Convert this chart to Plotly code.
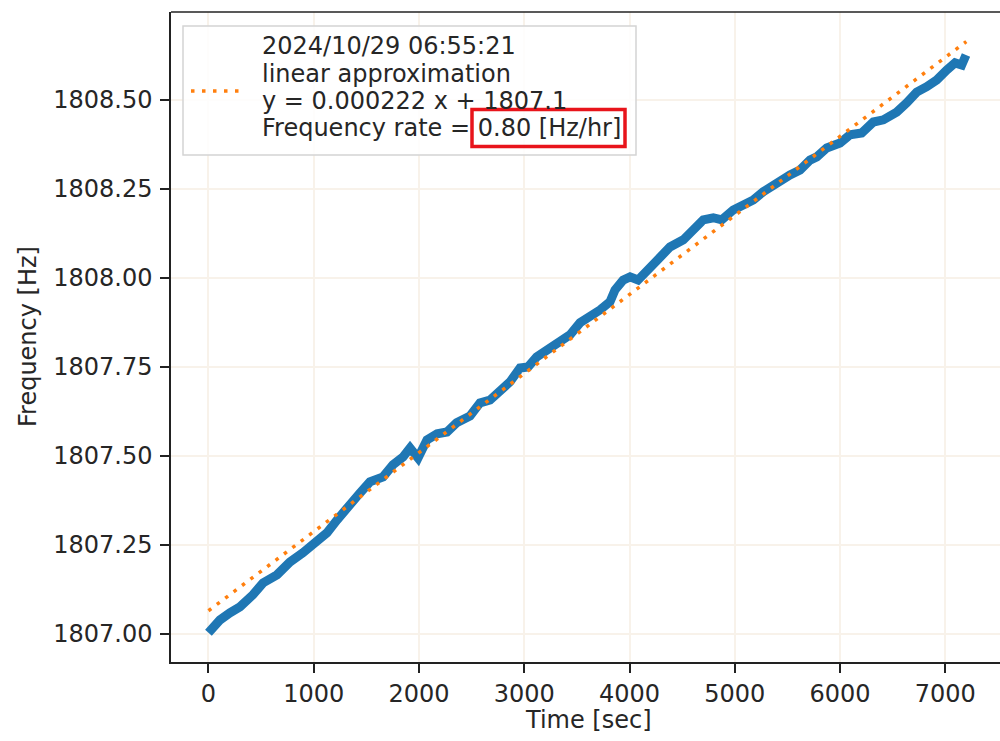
import plotly.graph_objects as go

# ---- data ----
time_sec = [0, 109, 204, 299, 423, 518, 651, 774, 898, 1059, 1126, 1221, 1344, 1440, 1534,
            1658, 1753, 1848, 1915, 1991, 2076, 2172, 2266, 2358, 2485, 2580, 2675, 2770,
            2865, 2960, 3036, 3118, 3245, 3340, 3435, 3530, 3625, 3720, 3815, 3862, 3939,
            4005, 4081, 4163, 4258, 4385, 4511, 4606, 4701, 4796, 4876, 4986, 5081, 5176,
            5271, 5398, 5525, 5620, 5715, 5779, 5874, 6000, 6095, 6206, 6317, 6412, 6539,
            6634, 6729, 6824, 6919, 7014, 7093, 7156, 7197]
freq_hz = [1807.003, 1807.039, 1807.059, 1807.076, 1807.110, 1807.143, 1807.166, 1807.202,
           1807.228, 1807.264, 1807.284, 1807.320, 1807.368, 1807.396, 1807.427, 1807.441,
           1807.475, 1807.497, 1807.522, 1807.494, 1807.545, 1807.562, 1807.567, 1807.593,
           1807.612, 1807.649, 1807.657, 1807.680, 1807.708, 1807.747, 1807.750, 1807.778,
           1807.803, 1807.826, 1807.840, 1807.874, 1807.890, 1807.910, 1807.933, 1807.966,
           1807.994, 1808.003, 1807.994, 1808.022, 1808.048, 1808.087, 1808.107, 1808.135,
           1808.163, 1808.169, 1808.163, 1808.191, 1808.205, 1808.219, 1808.242, 1808.267,
           1808.289, 1808.303, 1808.331, 1808.340, 1808.365, 1808.379, 1808.402, 1808.407,
           1808.438, 1808.444, 1808.466, 1808.492, 1808.522, 1808.537, 1808.556, 1808.584,
           1808.604, 1808.598, 1808.626]

fit_time = [0, 7200]
fit_freq = [1807.065, 1808.664]

x_ticks = [0, 1000, 2000, 3000, 4000, 5000, 6000, 7000]
y_ticks = [1807.00, 1807.25, 1807.50, 1807.75, 1808.00, 1808.25, 1808.50]

legend_lines = ["2024/10/29 06:55:21", "linear approximation",
                "y = 0.000222 x + 1807.1", "Frequency rate = 0.80 [Hz/hr]"]

# ---- layout geometry (pixels) ----
W, H = 1000, 741
L, R, T, B = 171, 0, 12, 79
PW, PH = W - L - R, H - T - B


def px(xp):
    return (xp - L) / PW


def py(yp):
    return (H - B - yp) / PH


FONT = "DejaVu Sans"
FS = 24
BLUE = "#1f77b4"
ORANGE = "#ff7f0e"
GRID = "#f8f2ea"
TXT = "#262626"

fig = go.Figure()
fig.add_trace(go.Scatter(x=time_sec, y=freq_hz, mode="lines",
                         line=dict(color=BLUE, width=9), showlegend=False,
                         name="data"))
fig.add_trace(go.Scatter(x=fit_time, y=fit_freq, mode="lines",
                         line=dict(color=ORANGE, width=3.5, dash="3.5px,7px"),
                         showlegend=False, name="linear approximation"))

axis_common = dict(showgrid=True, gridcolor=GRID, gridwidth=2, zeroline=False,
                   showline=True, linecolor="#222", linewidth=1.5,
                   ticks="outside", ticklen=9, tickwidth=1.5, tickcolor="#222",
                   tickfont=dict(family=FONT, size=FS, color=TXT))

fig.update_xaxes(range=[-356, 7520], tickvals=x_ticks, **axis_common)
fig.update_yaxes(range=[1806.921, 1808.747], tickvals=y_ticks, tickformat=".2f",
                 ticklabelstandoff=3, **axis_common)

shapes = []
# top border of the axes box (right side is cropped in the reference)
shapes.append(dict(type="line", xref="paper", yref="paper", x0=0, x1=1, y0=1, y1=1,
                   line=dict(color="#222", width=1.5)))
# legend box
shapes.append(dict(type="rect", xref="paper", yref="paper",
                   x0=px(183), x1=px(636), y0=py(155), y1=py(26),
                   line=dict(color="#d4d4d4", width=1.5), fillcolor="rgba(255,255,255,0.85)"))
# legend sample
shapes.append(dict(type="line", xref="paper", yref="paper",
                   x0=px(191), x1=px(239), y0=py(91), y1=py(91),
                   line=dict(color=ORANGE, width=3.5, dash="3.5px,7.5px")))
# red highlight box
shapes.append(dict(type="rect", xref="paper", yref="paper",
                   x0=px(472), x1=px(625), y0=py(146.5), y1=py(109.5),
                   line=dict(color="#e8141b", width=3.5)))

annotations = []
line_centers = [46.5, 73.5, 100.5, 127.5]
for txt, yc in zip(legend_lines, line_centers):
    annotations.append(dict(text=txt, xref="paper", yref="paper", x=px(261), y=py(yc),
                            xanchor="left", yanchor="middle", showarrow=False, borderpad=0,
                            font=dict(family=FONT, size=FS, color=TXT)))
annotations.append(dict(text="Time [sec]", xref="paper", yref="paper", x=px(588), y=py(720),
                        xanchor="center", yanchor="middle", showarrow=False,
                        font=dict(family=FONT, size=FS, color=TXT)))
annotations.append(dict(text="Frequency [Hz]", xref="paper", yref="paper", x=px(28), y=py(337),
                        xanchor="center", yanchor="middle", showarrow=False, textangle=-90,
                        font=dict(family=FONT, size=FS, color=TXT)))

fig.update_layout(width=W, height=H, margin=dict(l=L, r=R, t=T, b=B, autoexpand=False),
                  paper_bgcolor="white", plot_bgcolor="white", showlegend=False,
                  shapes=shapes, annotations=annotations,
                  font=dict(family=FONT, size=FS, color=TXT))

fig.write_html("out.html")
